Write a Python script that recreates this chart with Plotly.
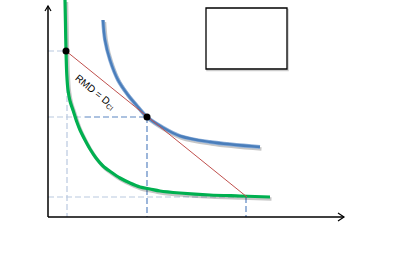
import plotly.graph_objects as go
import numpy as np

# Diagram data (read in picture units: x to the right, y downward)
green_x = [65, 65.5, 66, 66.8, 68, 70, 73.3, 76.5, 80, 85, 90, 96, 103, 111, 120, 130, 140, 150, 160, 180, 210, 240, 270]
green_y = [0, 25, 51, 75, 90, 101, 111, 121, 130, 140, 149, 158, 166, 172, 178, 183, 187, 189, 191, 193, 195, 196, 197]
blue_x = [103, 105, 110, 118, 128, 138, 147, 162, 180, 210, 260]
blue_y = [20, 40, 60, 80, 95, 107, 117, 127, 136, 142, 147]
points_x = [66, 147]
points_y = [51, 117]
red_x = [66, 247]
red_y = [51, 197]
axis_origin = (48, 217)
y_axis_top = 6
x_axis_right = 344
box = (206, 8, 287, 69)
label_text = "RMD = D<sub>CI</sub>"
label_pos = (95, 92)

fig = go.Figure()
ox, oy = axis_origin
light = "#b9c9df"
dark = "#5a85c2"

def seg(x, y, color, width=1.0, dash=None):
    fig.add_trace(go.Scatter(x=x, y=y, mode="lines",
                             line=dict(color=color, width=width, dash=dash),
                             hoverinfo="skip", showlegend=False))

# dashed guides
seg([ox, points_x[0]], [points_y[0]] * 2, light, 1.2, "6px,3px")
seg([points_x[0] + 1] * 2, [points_y[0], oy], light, 1.2, "6px,3px")
seg([ox, 85], [points_y[1]] * 2, light, 1.2, "6px,3px")
seg([85, points_x[1]], [points_y[1]] * 2, dark, 1.2, "6px,3px")
seg([points_x[1]] * 2, [points_y[1], oy], dark, 1.2, "6px,3px")
seg([ox, red_x[1]], [red_y[1]] * 2, light, 1.2, "6px,3px")
seg([red_x[1] - 1] * 2, [red_y[1], oy], dark, 1.2, "6px,3px")

# shadows
gx = np.array(green_x); gy = np.array(green_y)
bx = np.array(blue_x); by = np.array(blue_y)
fig.add_trace(go.Scatter(x=gx + 1.5, y=gy + 2, mode="lines", line=dict(color="rgba(0,0,0,0.22)", width=3.5, shape="spline", smoothing=0.8), hoverinfo="skip", showlegend=False))
fig.add_trace(go.Scatter(x=bx + 1.5, y=by + 2, mode="lines", line=dict(color="rgba(0,0,0,0.22)", width=3.5, shape="spline", smoothing=1.0), hoverinfo="skip", showlegend=False))

# curves
fig.add_trace(go.Scatter(x=green_x, y=green_y, mode="lines", line=dict(color="#00b050", width=3.2, shape="spline", smoothing=0.8), hoverinfo="skip", showlegend=False))
fig.add_trace(go.Scatter(x=blue_x, y=blue_y, mode="lines", line=dict(color="#8fb0da", width=3.8, shape="spline", smoothing=1.0), hoverinfo="skip", showlegend=False))
fig.add_trace(go.Scatter(x=blue_x, y=blue_y, mode="lines", line=dict(color="#4a7ebb", width=2.4, shape="spline", smoothing=1.0), hoverinfo="skip", showlegend=False))

# red line
seg(red_x, red_y, "#c0504d", 1.0)

# axes
seg([ox, ox], [oy, y_axis_top], "black", 1.5)
seg([ox, x_axis_right], [oy, oy], "black", 1.5)
seg([ox - 3, ox, ox + 3], [y_axis_top + 5, y_axis_top, y_axis_top + 5], "black", 1.2)
seg([x_axis_right - 6, x_axis_right, x_axis_right - 6], [oy - 4, oy, oy + 4], "black", 1.2)

# points
fig.add_trace(go.Scatter(x=points_x, y=points_y, mode="markers", marker=dict(color="black", size=7), hoverinfo="skip", showlegend=False))

# box with shadow
x0, y0, x1, y1 = box
fig.add_shape(type="rect", x0=x0 + 1, y0=y0 + 1.5, x1=x1 + 1, y1=y1 + 1.5, line=dict(color="rgba(0,0,0,0.2)", width=1.5), fillcolor="rgba(0,0,0,0)")
fig.add_shape(type="rect", x0=x0, y0=y0, x1=x1, y1=y1, line=dict(color="black", width=1.3), fillcolor="white")

fig.add_annotation(x=label_pos[0], y=label_pos[1], text=label_text, showarrow=False,
                   textangle=39, font=dict(family="Liberation Sans", size=10, color="black"))

fig.update_layout(width=416, height=253, margin=dict(l=0, r=0, t=0, b=0),
                  paper_bgcolor="white", plot_bgcolor="white",
                  xaxis=dict(range=[0, 416], visible=False, fixedrange=True),
                  yaxis=dict(range=[253, 0], visible=False, fixedrange=True))
fig.write_html("out.html")
